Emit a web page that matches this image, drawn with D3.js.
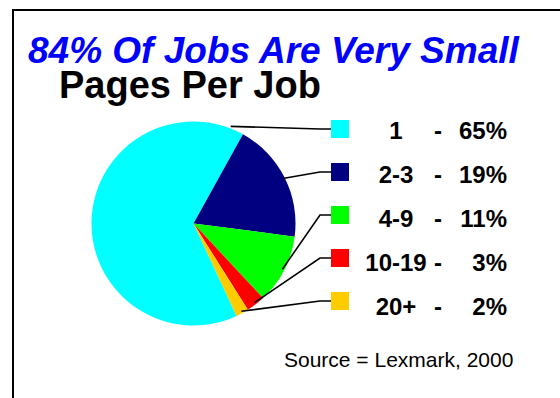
<!DOCTYPE html>
<html>
<head>
<meta charset="utf-8">
<script src="https://cdn.jsdelivr.net/npm/d3@7"></script>
<style>
  html, body { margin: 0; padding: 0; background: #fff; }
  svg { display: block; }
  text { font-family: "Liberation Sans", Arial, sans-serif; }
</style>
</head>
<body>
<svg id="chart" width="560" height="398"></svg>
<script>
// ---- data ----
const categories = ["1", "2-3", "4-9", "10-19", "20+"];
const shares = [65, 19, 11, 3, 2];
const colors = ["#00FFFF", "#000080", "#00FF00", "#FF0000", "#FFCC00"];
const title = "84% Of Jobs Are Very Small";
const subtitle = "Pages Per Job";
const source = "Source = Lexmark, 2000";

const svg = d3.select("#chart");

// frame
svg.append("rect")
  .attr("x", 13).attr("y", 10)
  .attr("width", 600).attr("height", 450)
  .attr("fill", "none").attr("stroke", "#000").attr("stroke-width", 2);

// titles
svg.append("text")
  .attr("x", 28).attr("y", 62.5)
  .attr("font-size", 37).attr("font-weight", "bold").attr("font-style", "italic")
  .attr("fill", "#0000FF")
  .text(title);

svg.append("text")
  .attr("x", 59).attr("y", 98)
  .attr("font-size", 38).attr("font-weight", "bold")
  .attr("fill", "#000")
  .text(subtitle);

// pie
const cx = 193.5, cy = 223.5, R = 102;
const data = categories.map((c, i) => ({ cat: c, value: shares[i], color: colors[i] }));
const pie = d3.pie().sort(null).value(d => d.value)
  .startAngle(-205 * Math.PI / 180)
  .endAngle((360 - 205) * Math.PI / 180);
const arcs = pie(data);
const arc = d3.arc().innerRadius(0).outerRadius(R);

const g = svg.append("g").attr("transform", `translate(${cx},${cy})`);
g.selectAll("path.slice")
  .data(arcs)
  .join("path")
  .attr("class", "slice")
  .attr("d", arc)
  .attr("fill", d => d.data.color);

// legend
const sqSize = 18;
const sqX = 331;
const rowSq = d3.scalePoint().domain(categories).range([129, 301]);
const rowTxt = d3.scalePoint().domain(categories).range([139, 315]);

// leader lines
const elbowX = 320;
arcs.forEach((a, i) => {
  const ang = i === 0 ? a.endAngle - 0.14 : (a.startAngle + a.endAngle) / 2;
  const rr = i === 0 ? R * 1.02 : R * 0.98;
  const px = cx + rr * Math.sin(ang);
  const py = cy - rr * Math.cos(ang);
  const yy = rowSq(a.data.cat);
  svg.append("polyline")
    .attr("points", `${px},${py} ${elbowX},${yy} ${sqX},${yy}`)
    .attr("fill", "none")
    .attr("stroke", "#000")
    .attr("stroke-width", 1.6);
});

const leg = svg.append("g");
leg.selectAll("rect.sw")
  .data(data)
  .join("rect")
  .attr("class", "sw")
  .attr("x", sqX)
  .attr("y", d => rowSq(d.cat) - sqSize / 2)
  .attr("width", sqSize).attr("height", sqSize)
  .attr("fill", d => d.color);

const fs = 24;
leg.selectAll("text.cat")
  .data(data)
  .join("text")
  .attr("class", "cat")
  .attr("x", 396)
  .attr("y", d => rowTxt(d.cat))
  .attr("text-anchor", "middle")
  .attr("font-size", fs).attr("font-weight", "bold")
  .text(d => d.cat);

leg.selectAll("text.dash")
  .data(data)
  .join("text")
  .attr("class", "dash")
  .attr("x", 438)
  .attr("y", d => rowTxt(d.cat))
  .attr("text-anchor", "middle")
  .attr("font-size", fs).attr("font-weight", "bold")
  .text("-");

leg.selectAll("text.pct")
  .data(data)
  .join("text")
  .attr("class", "pct")
  .attr("x", 507)
  .attr("y", d => rowTxt(d.cat))
  .attr("text-anchor", "end")
  .attr("font-size", fs).attr("font-weight", "bold")
  .text(d => d.value + "%");

// source
svg.append("text")
  .attr("x", 284).attr("y", 366.5)
  .attr("font-size", 21)
  .text(source);
</script>
</body>
</html>
